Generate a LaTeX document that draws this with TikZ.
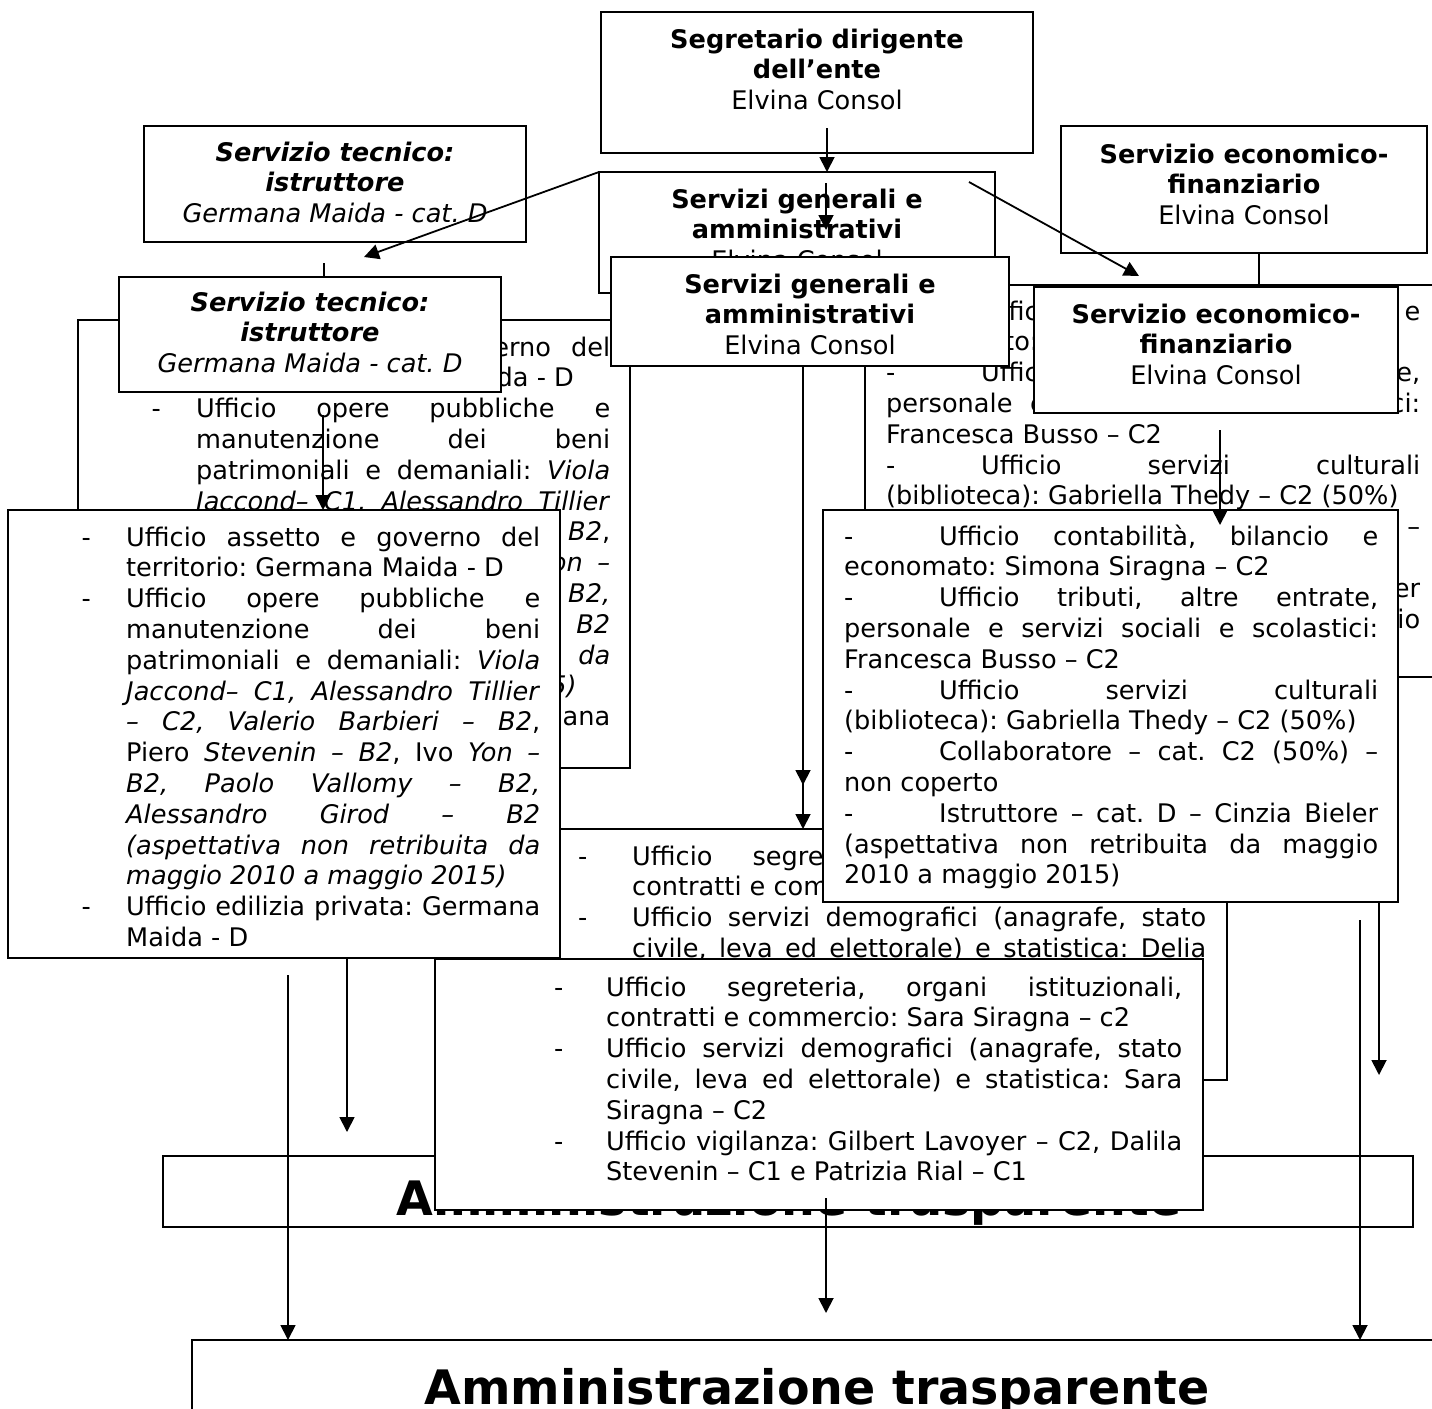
\documentclass[tikz,border=0pt]{standalone}
\usepackage{fontspec}
\setmainfont{DejaVu Sans}
\usetikzlibrary{arrows.meta}
\hbadness=10000
\hfuzz=60pt
\frenchspacing

% one justified line, one ragged line, hanging dash, dash with tab
\newcommand{\jline}[1]{\hbox to\hsize{#1}}
\newcommand{\rline}[1]{\hbox{#1}}
\newcommand{\hangdash}[1]{\llap{\hbox to #1{-\hfil}}}
\newcommand{\tabdash}{\hbox to 95pt{-\hfil}}

\newcommand{\tecnicoitems}{%
  \jline{\hangdash{44.5pt}Ufficio assetto e governo del}
  \rline{territorio: Germana Maida - D}
  \jline{\hangdash{44.5pt}Ufficio opere pubbliche e}
  \jline{manutenzione dei beni}
  \jline{patrimoniali e demaniali: \textit{Viola}}
  \jline{\textit{Jaccond– C1, Alessandro Tillier}}
  \jline{\textit{– C2, Valerio Barbieri – B2},}
  \jline{Piero \textit{Stevenin – B2}, Ivo \textit{Yon –}}
  \jline{\textit{B2, Paolo Vallomy – B2,}}
  \jline{\textit{Alessandro Girod – B2}}
  \jline{\textit{(aspettativa non retribuita da}}
  \rline{\textit{maggio 2010 a maggio 2015)}}
  \jline{\hangdash{44.5pt}Ufficio edilizia privata: Germana}
  \rline{Maida - D}}

\newcommand{\economicoitems}{%
  \jline{\tabdash Ufficio contabilità, bilancio e}
  \rline{economato: Simona Siragna – C2}
  \jline{\tabdash Ufficio tributi, altre entrate,}
  \jline{personale e servizi sociali e scolastici:}
  \rline{Francesca Busso – C2}
  \jline{\tabdash Ufficio servizi culturali}
  \rline{(biblioteca): Gabriella Thedy – C2 (50\%)}
  \jline{\tabdash Collaboratore – cat. C2 (50\%) –}
  \rline{non coperto}
  \jline{\tabdash Istruttore – cat. D – Cinzia Bieler}
  \jline{(aspettativa non retribuita da maggio}
  \rline{2010 a maggio 2015)}}

\begin{document}
\begin{tikzpicture}[x=1pt, y=-1pt, >={Triangle[length=15pt,width=15pt]},
    box/.style={draw, fill=white, line width=1.6pt, inner sep=0pt, outer sep=0pt},
    txt/.style={inner sep=0pt, font=\fontsize{25.6}{30.8}\selectfont},
    big/.style={inner sep=0pt, font=\fontsize{47.5}{56}\selectfont\bfseries},
    link/.style={line width=1.8pt}]
  \useasboundingbox (0,0) rectangle (1432,1408);

  % Older copy of the chart (behind)
  \node[box, minimum width=382, minimum height=116] (tecg) at (335,184) {};
  \node[txt, anchor=base] (tecgtxt) at (335,161) {\parbox[t]{370pt}{\centering
      \textbf{\textit{Servizio tecnico:}}\\ \textbf{\textit{istruttore}}\\ \textit{Germana Maida - cat. D}}};

  \node[box, minimum width=396, minimum height=121] (geng) at (797,232.5) {};
  \node[txt, anchor=base] (gengtxt) at (797,208) {\parbox[t]{390pt}{\centering
      \textbf{Servizi generali e}\\ \textbf{amministrativi}\\ Elvina Consol}};

  \node[box, minimum width=366, minimum height=127] (ecog) at (1244,189.5) {};
  \node[txt, anchor=base] (ecogtxt) at (1244,163) {\parbox[t]{360pt}{\centering
      \textbf{Servizio economico-}\\ \textbf{finanziario}\\ Elvina Consol}};

  \begin{scope}[shift={(70,-190)}]
    \node[box, minimum width=552, minimum height=448] (teclg) at (284,734) {};
    \node[txt, anchor=base west] (teclgtxt) at (126,546) {\parbox[t]{414pt}{\tecnicoitems}};
  \end{scope}

  \begin{scope}[shift={(42,-225)}]
    \node[box, minimum width=575, minimum height=392] (ecogl) at (1110.5,706) {};
    \node[txt, anchor=base west] (ecogltxt) at (844,545) {\parbox[t]{534pt}{\economicoitems}};
  \end{scope}

  \node[box, minimum width=667, minimum height=251] (gengl) at (893.5,954.5) {};
  \node[txt, anchor=base west] (gengltxt) at (632,865) {\parbox[t]{574pt}{%
      \jline{\hangdash{54pt}Ufficio segreteria, organi istituzionali,}
      \rline{contratti e commercio: Sara Siragna – c2}
      \jline{\hangdash{54pt}Ufficio servizi demografici (anagrafe, stato}
      \jline{civile, leva ed elettorale) e statistica: Delia}}};

  \node[box, minimum width=1250, minimum height=71] (ammg) at (788,1191.5) {};
  \node[big, anchor=base] (ammgtxt) at (789,1215) {Amministrazione trasparente};

  % Segretario
  \node[box, minimum width=432, minimum height=141] (segr) at (817,82.5) {};
  \node[txt, anchor=base] (segrtxt) at (817,48) {\parbox[t]{420pt}{\centering
      \textbf{Segretario dirigente}\\ \textbf{dell’ente}\\ Elvina Consol}};

  % Services (front)
  \node[box, minimum width=382, minimum height=115] (tec) at (310,334.5) {};
  \node[txt, anchor=base] (tectxt) at (310,311) {\parbox[t]{370pt}{\centering
      \textbf{\textit{Servizio tecnico:}}\\ \textbf{\textit{istruttore}}\\ \textit{Germana Maida - cat. D}}};

  \node[box, minimum width=398, minimum height=109] (gen) at (810,311.5) {};
  \node[txt, anchor=base] (gentxt) at (810,293) {\parbox[t]{390pt}{\centering
      \textbf{Servizi generali e}\\ \textbf{amministrativi}\\ Elvina Consol}};

  \node[box, minimum width=364, minimum height=126] (eco) at (1216,350) {};
  \node[txt, anchor=base] (ecotxt) at (1216,323) {\parbox[t]{360pt}{\centering
      \textbf{Servizio economico-}\\ \textbf{finanziario}\\ Elvina Consol}};

  % Offices (front)
  \node[box, minimum width=552, minimum height=448] (tecl) at (284,734) {};
  \node[txt, anchor=base west] (tecltxt) at (126,546) {\parbox[t]{414pt}{\tecnicoitems}};

  \node[box, minimum width=575, minimum height=392] (ecol) at (1110.5,706) {};
  \node[txt, anchor=base west] (ecoltxt) at (844,545) {\parbox[t]{534pt}{\economicoitems}};

  \node[box, minimum width=768, minimum height=251] (genl) at (819,1084.5) {};
  \node[txt, anchor=base west] (genltxt) at (606,996) {\parbox[t]{576pt}{%
      \jline{\hangdash{52pt}Ufficio segreteria, organi istituzionali,}
      \rline{contratti e commercio: Sara Siragna – c2}
      \jline{\hangdash{52pt}Ufficio servizi demografici (anagrafe, stato}
      \jline{civile, leva ed elettorale) e statistica: Sara}
      \rline{Siragna – C2}
      \jline{\hangdash{52pt}Ufficio vigilanza: Gilbert Lavoyer – C2, Dalila}
      \rline{Stevenin – C1 e Patrizia Rial – C1}}};

  % Amministrazione trasparente
  \node[box, minimum width=1250, minimum height=71] (amm) at (817,1375.5) {};
  \node[big, anchor=base] (ammtxt) at (817,1404) {Amministrazione trasparente};

  % Connectors
  \coordinate (a1) at (827,128);
  \coordinate (a2s) at (826,183);
  \coordinate (a2e) at (826,230);
  \coordinate (a3e) at (364,257);
  \coordinate (a4s) at (969,182);
  \coordinate (a4e) at (1139,276);
  \coordinate (a5) at (323,415);
  \coordinate (a6) at (803,0);
  \coordinate (a6e) at (803,785);
  \coordinate (a7s) at (1220,430);
  \coordinate (a7e) at (1220,525);
  \coordinate (a8) at (1379,0);
  \coordinate (a8e) at (1379,1075);
  \coordinate (a9) at (1360,920);
  \coordinate (a10) at (288,975);
  \coordinate (a11) at (347,0);
  \coordinate (a11e) at (347,1132);
  \coordinate (a12s) at (826,1198);
  \coordinate (a12e) at (826,1313);
  \coordinate (s1) at (324,263);
  \coordinate (s2) at (1259,0);

  \draw[->, link] (a1) -- (a1 |- geng.north);
  \draw[->, link] (a2s) -- (a2e);
  \draw[->, link] (geng.north west) -- (a3e);
  \draw[->, link] (a4s) -- (a4e);
  \draw[->, link] (a5) -- (a5 |- tecl.north);
  \draw[->, link] (a6 |- gen.south) -- (a6 |- gengl.north);
  \draw[->, link] (a6 |- gen.south) -- (a6e);
  \draw[->, link] (a7s) -- (a7e);
  \draw[->, link] (a8 |- ecol.south) -- (a8e);
  \draw[->, link] (a9) -- (a9 |- amm.north);
  \draw[->, link] (a10) -- (a10 |- amm.north);
  \draw[->, link] (a11 |- tecl.south) -- (a11e);
  \draw[->, link] (a12s) -- (a12e);
  \draw[link] (s1) -- (s1 |- tec.north);
  \draw[link] (s2 |- ecog.south) -- (s2 |- ecogl.north);
\end{tikzpicture}
\end{document}
